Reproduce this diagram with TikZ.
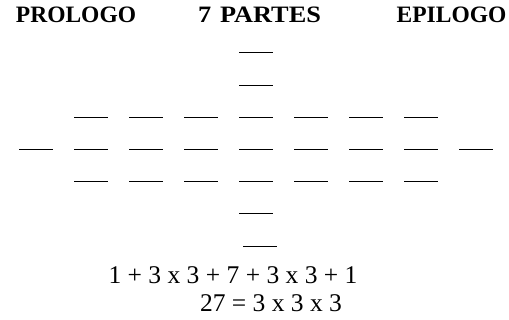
\documentclass[tikz,border=0pt]{standalone}
\usepackage{fontspec}
\setmainfont{Liberation Serif}
\begin{document}
\begin{tikzpicture}[x=1pt,y=-1pt,
  bar/.style={line width=0.9pt,black},
  head/.style={font=\fontsize{23.5}{26}\selectfont\bfseries,anchor=base,inner sep=0pt},
  sum/.style={font=\fontsize{25.5}{28}\selectfont,anchor=base,inner sep=0pt}]
\useasboundingbox (0,0) rectangle (509,320);
% headings
\node[head] (pro) at (76,23) {PROLOGO};
\node[head] (par) at (259.5,23) {\scalebox{1.12}[1]{7\hspace{2pt} PARTES}};
\node[head] (epi) at (451.5,23) {EPILOGO};
% central column of seven strokes
\foreach \j in {-3,...,2}
  \draw[bar] ({256-17},{149.5+32.2*\j}) -- ++(34,0);
\draw[bar] ({260-17},{149.5+32.2*3}) -- ++(34,0);
% three rows of three strokes on each side
\foreach \k in {-3,-2,-1,1,2,3}
  \foreach \j in {-1,0,1}
    \draw[bar] ({256+55*\k-17},{149.5+32.2*\j}) -- ++(34,0);
% prologue and epilogue strokes
\draw[bar] ({256-55*4-17},149.5) -- ++(34,0);
\draw[bar] ({256+55*4-17},149.5) -- ++(34,0);
% the sums
\node[sum] (s1) at (233,284) {1 + 3 x 3 + 7 + 3 x 3 + 1};
\node[sum] (s2) at (271,312) {27 = 3 x 3 x 3};
\end{tikzpicture}
\end{document}
